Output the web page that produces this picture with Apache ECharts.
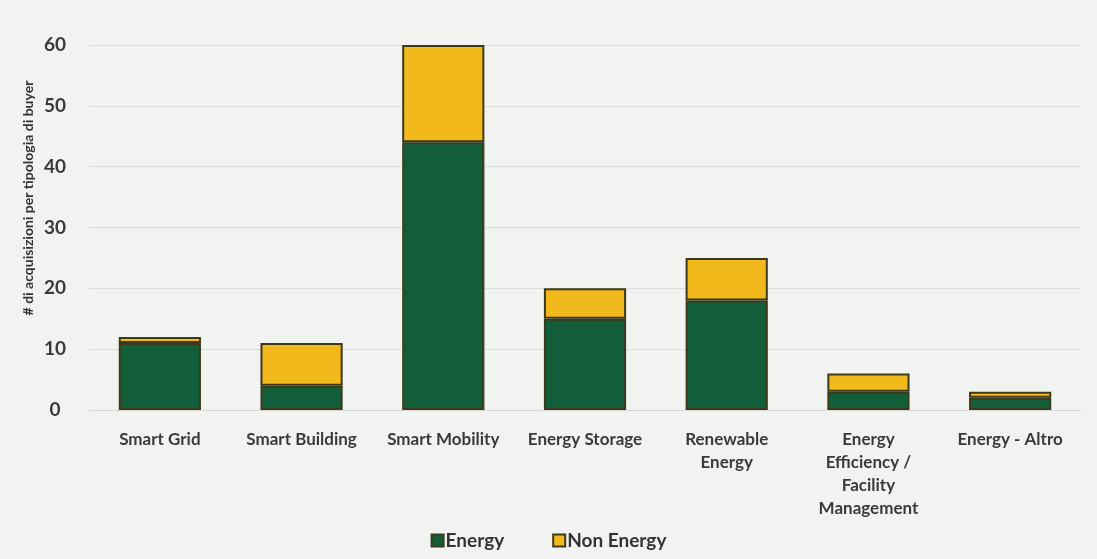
<!DOCTYPE html>
<html>
<head>
<meta charset="utf-8">
<script src="https://cdn.jsdelivr.net/npm/echarts@6/dist/echarts.min.js"></script>
<style>
  html, body { margin: 0; padding: 0; background: #f1f3f1; }
  #chart { width: 1097px; height: 559px; }
</style>
</head>
<body>
<div id="chart"></div>
<script>
// Acquisizioni per segmento, suddivise per tipologia di buyer
const categories = [
  'Smart Grid',
  'Smart Building',
  'Smart Mobility',
  'Energy Storage',
  'Renewable\nEnergy',
  'Energy\nEfficiency /\nFacility\nManagement',
  'Energy - Altro'
];
const energyValues = [11, 4, 44, 15, 18, 3, 2];
const nonEnergyValues = [1, 7, 16, 5, 7, 3, 1];
const yTicks = [0, 10, 20, 30, 40, 50, 60];
const yAxisTitle = '# di acquisizioni per tipologia di buyer';

const chart = echarts.init(document.getElementById('chart'), null, { renderer: 'canvas' });

const textFont = 'Lato, "Open Sans", sans-serif';
const barBorder = { borderColor: '#3d3a1c', borderWidth: 2 };

chart.setOption({
  backgroundColor: '#f1f3f1',
  animation: false,
  grid: { left: 89, right: 16, top: 45, bottom: 149 },
  legend: {
    bottom: 4,
    left: 'center',
    itemWidth: 12,
    itemHeight: 12,
    itemGap: 48,
    icon: 'rect',
    textStyle: { fontFamily: textFont, fontSize: 19, color: '#333', fontWeight: 'bold', padding: [0, 0, 0, -3] },
    data: ['Energy', 'Non Energy']
  },
  // rotated title beside the value axis
  graphic: [{
    type: 'text',
    rotation: Math.PI / 2,
    x: 28,
    y: 198,
    style: {
      text: yAxisTitle,
      font: 'bold 14px Lato, sans-serif',
      fill: '#333',
      align: 'center',
      verticalAlign: 'middle'
    }
  }],
  xAxis: {
    type: 'category',
    data: categories,
    axisLine: { show: true, lineStyle: { color: '#d6d6d6', width: 1 } },
    axisTick: { show: false },
    axisLabel: {
      interval: 0,
      margin: 18,
      fontFamily: textFont,
      fontSize: 17,
      fontWeight: 'bold',
      color: '#3a3a3a',
      lineHeight: 23,
      align: 'center'
    }
  },
  yAxis: {
    type: 'value',
    min: yTicks[0],
    max: yTicks[yTicks.length - 1],
    interval: 10,
    axisLine: { show: false },
    axisTick: { show: false },
    axisLabel: {
      margin: 34,
      align: 'center',
      fontFamily: textFont,
      fontSize: 19,
      fontWeight: 'bold',
      color: '#3a3a3a'
    },
    splitLine: { lineStyle: { color: '#dcdcdc', width: 1 } }
  },
  series: [
    {
      name: 'Energy',
      type: 'bar',
      stack: 'tot',
      barWidth: '58%',
      data: energyValues,
      itemStyle: Object.assign({ color: '#135e3a' }, barBorder)
    },
    {
      name: 'Non Energy',
      type: 'bar',
      stack: 'tot',
      barWidth: '58%',
      data: nonEnergyValues,
      itemStyle: Object.assign({ color: '#f1b91b' }, barBorder)
    }
  ]
});
</script>
</body>
</html>
